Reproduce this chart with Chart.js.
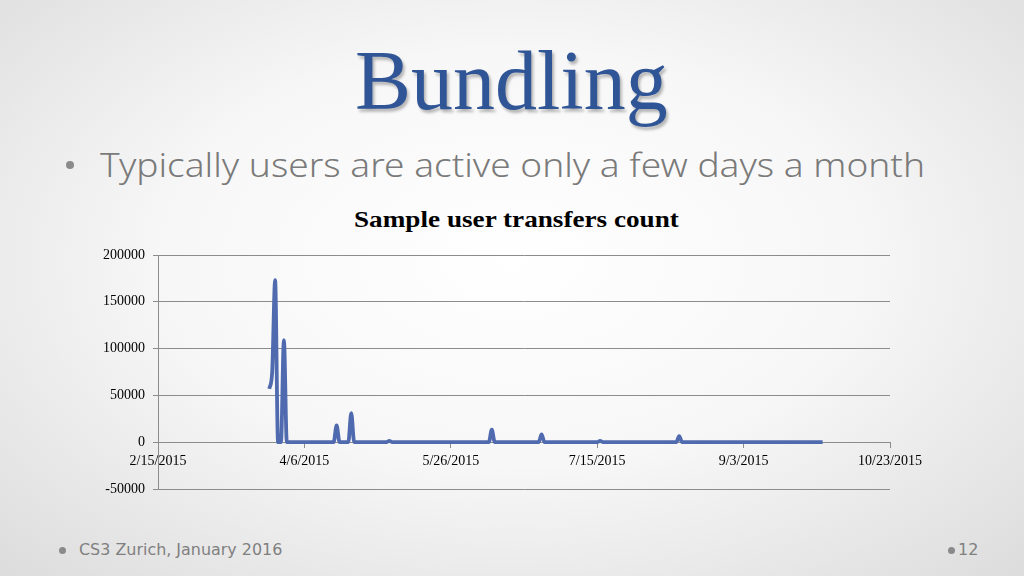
<!DOCTYPE html>
<html>
<head>
<meta charset="utf-8">
<script src="https://cdn.jsdelivr.net/npm/chart.js@4/dist/chart.umd.min.js"></script>
<style>
  html, body { margin: 0; padding: 0; }
  body {
    width: 1024px; height: 576px; overflow: hidden; position: relative;
    background: radial-gradient(ellipse 75% 80% at 50% 45%, #ffffff 0%, #f7f7f7 45%, #dadada 100%);
  }
  .txt { position: absolute; white-space: nowrap; transform-origin: 0 0; }
  #title {
    left: 355px; top: 32px; font-family: "Liberation Serif", serif; font-size: 84px;
    color: #2f5597; text-shadow: 2px 3px 3px rgba(0,0,0,0.28);
  }
  #bullet {
    left: 100px; top: 142px; font-family: "Noto Sans", sans-serif; font-weight: 300;
    font-size: 33px; color: #7a7a7a;
  }
  .dot { position: absolute; border-radius: 50%; background: #8a8a8a; }
  #ctitle {
    left: 354px; top: 207px; font-family: "Liberation Serif", serif; font-weight: bold;
    font-size: 23px; color: #000;
  }
  .foot { font-family: "DejaVu Sans", sans-serif; font-size: 16px; color: #7f7f7f; top: 540px; }
  #chart { position: absolute; left: 0; top: 0; }
</style>
</head>
<body>
<div class="txt" id="title" data-w="313">Bundling</div>
<div class="dot" style="left:66px;top:161px;width:8px;height:8px;"></div>
<div class="txt" id="bullet" data-w="825">Typically users are active only a few days a month</div>
<div class="txt" id="ctitle" data-w="325">Sample user transfers count</div>
<div class="dot" style="left:59px;top:547px;width:7px;height:7px;"></div>
<div class="txt foot" style="left:79px;" data-w="203">CS3 Zurich, January 2016</div>
<div class="dot" style="left:948px;top:547px;width:7px;height:7px;"></div>
<div class="txt foot" style="left:958px;" data-w="20">12</div>
<canvas id="chart" width="1024" height="576"></canvas>
<script>
// days counted from 2/15/2015
const startDate = [2015, 1, 15];
const dayOffsets = [38, 39, 40, 41, 42, 43, 44, 60, 61, 62, 65, 66, 67, 78, 79, 80,
  113, 114, 115, 130, 131, 132, 150, 151, 152, 177, 178, 179, 227];
const transferCounts = [57000, 75000, 173000, 0, 0, 109000, 0, 0, 18000, 0, 0, 31000, 0, 0, 1500, 0,
  0, 13500, 0, 0, 8200, 0, 0, 1500, 0, 0, 6400, 0, 0];
const yTicks = [-50000, 0, 50000, 100000, 150000, 200000];
const xTickDays = [0, 50, 100, 150, 200, 250];

// squeeze text blocks to the widths seen on the slide
document.querySelectorAll('[data-w]').forEach(el => {
  const w = +el.dataset.w;
  el.style.transform = 'scaleX(' + (w / el.scrollWidth) + ')';
});

function dayLabel(v) {
  const d = new Date(startDate[0], startDate[1], startDate[2] + v);
  return (d.getMonth() + 1) + '/' + d.getDate() + '/' + d.getFullYear();
}

const gridColor = '#8c8c8c';
const tickFont = { family: 'Liberation Serif', size: 14 };

new Chart(document.getElementById('chart'), {
  type: 'line',
  data: {
    datasets: [{
      label: 'Transfers',
      data: dayOffsets.map((d, i) => ({ x: d, y: transferCounts[i] })),
      borderColor: '#4f6aae',
      borderWidth: 3.8,
      pointRadius: 0,
      cubicInterpolationMode: 'monotone',
      fill: false,
    }],
  },
  options: {
    responsive: false,
    animation: false,
    layout: { padding: { left: 0, top: 255, right: 134, bottom: 87 } },
    plugins: { legend: { display: false }, tooltip: { enabled: false } },
    scales: {
      x: {
        type: 'linear',
        position: { y: 0 },
        min: 0,
        max: 250,
        afterBuildTicks: s => { s.ticks = xTickDays.map(v => ({ value: v })); },
        ticks: { callback: v => dayLabel(v), color: '#000', font: tickFont, padding: 6, maxRotation: 0, autoSkip: false },
        grid: { drawOnChartArea: false, drawTicks: true, tickLength: 5, color: gridColor },
        border: { color: gridColor, width: 1 },
      },
      y: {
        min: -50000,
        max: 200000,
        afterBuildTicks: s => { s.ticks = yTicks.map(v => ({ value: v })); },
        afterFit: s => { s.width = 158; },
        ticks: { callback: v => String(v), color: '#000', font: tickFont, padding: 8 },
        grid: { color: gridColor, tickLength: 5, drawTicks: true },
        border: { color: gridColor, width: 1 },
      },
    },
  },
});
</script>
</body>
</html>
